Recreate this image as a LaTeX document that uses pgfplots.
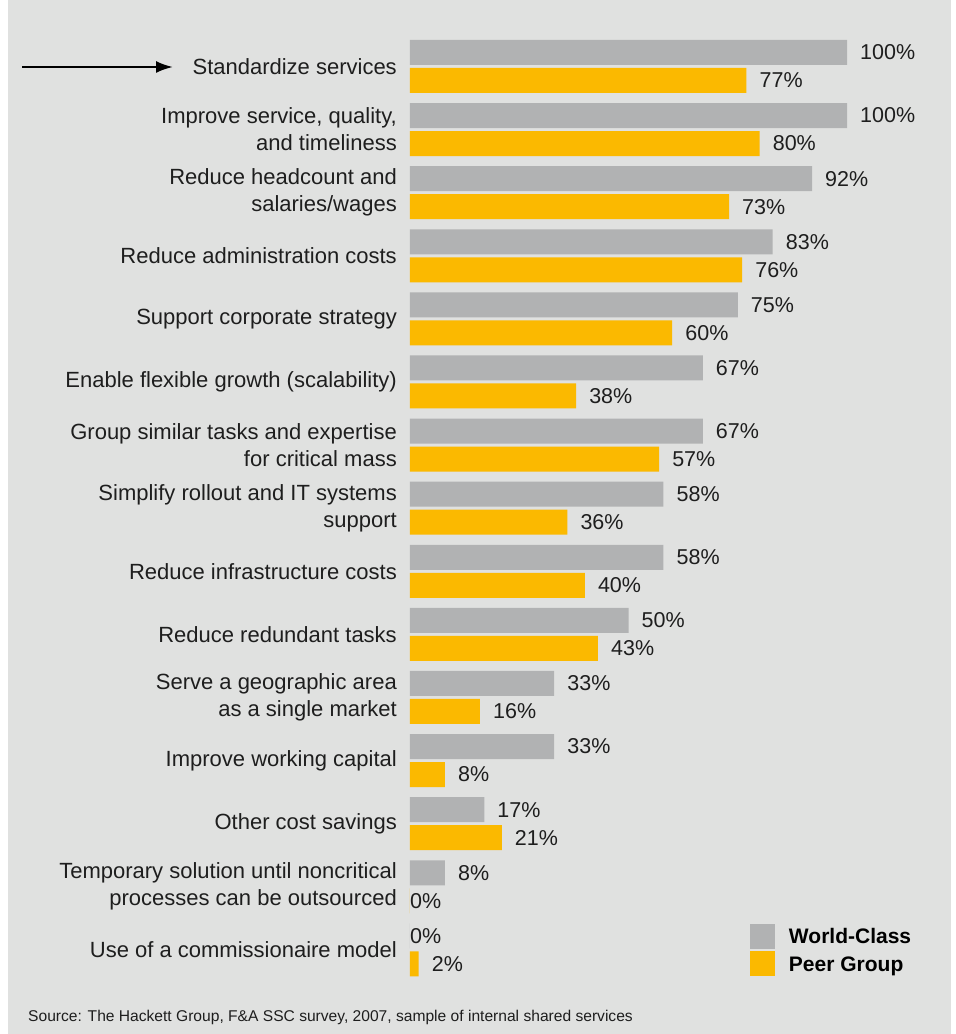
\documentclass[border=0pt]{standalone}
\usepackage{pgfplots}
\pgfplotsset{compat=1.18}
\usepackage{pgfplotstable}
\usepackage{fontspec}
\setmainfont{Liberation Sans}
\usetikzlibrary{arrows.meta}
\definecolor{bg}{HTML}{E0E1E0}
\definecolor{wc}{HTML}{B1B2B3}
\definecolor{peer}{HTML}{FBB900}
\definecolor{txt}{HTML}{1E1E1E}

\pgfplotstableread{
pos wc peer
14 100 77
13 100 80
12 92 73
11 83 76
10 75 60
9 67 38
8 67 57
7 58 36
6 58 40
5 50 43
4 33 16
3 33 8
2 17 21
1 8 0
0 0 2
}\data

\begin{document}
\begin{tikzpicture}
\fill[white] (0pt,0pt) rectangle (956pt,1034pt);
\fill[bg] (8pt,0pt) rectangle (951pt,1034pt);
\begin{axis}[
  at={(410pt,52.55pt)}, anchor=south west,
  scale only axis, width=437pt, height=946.5pt,
  xmin=0, xmax=100, ymin=-0.5, ymax=14.5,
  xbar, bar width=25pt,
  axis line style={draw=none}, major tick length=0pt, tick style={draw=none},
  xtick=\empty,
  ytick={0,...,14},
  yticklabels={
    {Use of a commissionaire model},
    {Temporary solution until noncritical\\processes can be outsourced},
    {Other cost savings},
    {Improve working capital},
    {Serve a geographic area\\as a single market},
    {Reduce redundant tasks},
    {Reduce infrastructure costs},
    {Simplify rollout and IT systems\\support},
    {Group similar tasks and expertise\\for critical mass},
    {Enable flexible growth (scalability)},
    {Support corporate strategy},
    {Reduce administration costs},
    {Reduce headcount and\\salaries/wages},
    {Improve service, quality,\\and timeliness},
    {Standardize services}},
  yticklabel style={font=\fontsize{22}{27}\selectfont, text=txt, align=right, inner sep=0pt, xshift=-13pt},
  clip=false,
  nodes near coords={\pgfmathprintnumber{\pgfplotspointmeta}\%},
  point meta=x,
  visualization depends on={rawx \as \rawx},
  every node near coord/.append style={font=\fontsize{21.5}{25}\selectfont, text=txt, anchor=west, inner sep=0pt, xshift={13pt*(\rawx>0)}},
  /pgf/number format/assume math mode=true,
  legend style={at={(axis description cs:0.778,0.0607)}, anchor=north west, draw=none, fill=none, inner sep=0pt, outer sep=0pt, font=\bfseries\fontsize{21}{25}\selectfont, text=black, row sep=2.5pt, nodes={inner sep=0pt}, /tikz/every odd column/.append style={column sep=14pt}},
  legend cell align=left,
  legend image code/.code={\fill[#1] (0pt,-12pt) rectangle (25pt,13pt);},
]
\addplot[fill=wc, draw=none, bar shift=14pt] table[x=wc, y=pos]{\data};
\addplot[fill=peer, draw=none, bar shift=-14pt] table[x=peer, y=pos]{\data};
\legend{World-Class, Peer Group}
\end{axis}
\draw[black, line width=2.3pt, -{Latex[length=17pt,width=12pt]}] (22pt,967pt) -- (173pt,967pt);
\node[anchor=west, font=\fontsize{15.6}{18}\selectfont, text=txt, inner sep=0pt] at (28pt,17pt) {Source: The Hackett Group, F\&A SSC survey, 2007, sample of internal shared services};
\pgfresetboundingbox
\useasboundingbox (0pt,0pt) rectangle (956pt,1034pt);
\end{tikzpicture}
\end{document}
